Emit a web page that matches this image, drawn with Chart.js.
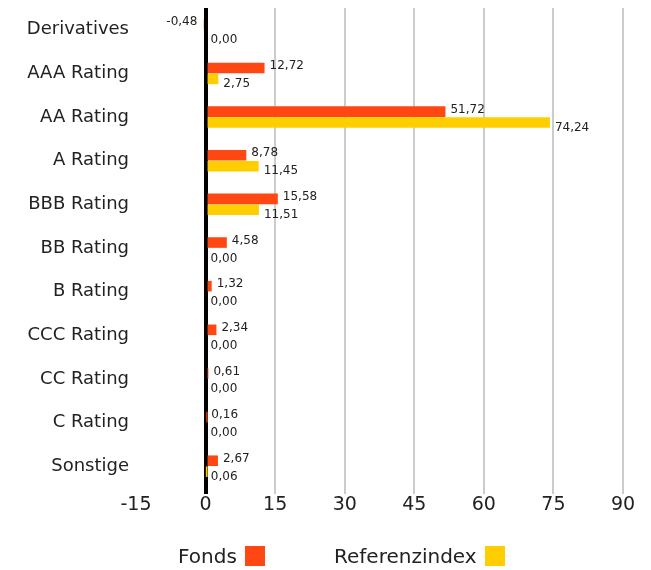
<!DOCTYPE html>
<html>
<head>
<meta charset="utf-8">
<script src="https://cdn.jsdelivr.net/npm/chart.js@4"></script>
<style>
  body { margin: 0; background: #fff; }
  #wrap { position: relative; width: 651px; height: 570px; }
  #legend {
    position: absolute; left: 0; top: 544px; width: 651px;
    font-family: "DejaVu Sans", sans-serif; font-size: 20px; color: #222;
  }
  .item { position: absolute; top: 0; display: flex; align-items: center; }
  .box { width: 20px; height: 20px; margin-left: 8px; }
</style>
</head>
<body>
<div id="wrap">
  <canvas id="myChart" width="651" height="570"></canvas>
  <div id="legend"></div>
</div>
<script>
var categories = [
  "Derivatives", "AAA Rating", "AA Rating", "A Rating", "BBB Rating",
  "BB Rating", "B Rating", "CCC Rating", "CC Rating", "C Rating", "Sonstige"
];
var fondsValues = [-0.48, 12.72, 51.72, 8.78, 15.58, 4.58, 1.32, 2.34, 0.61, 0.16, 2.67];
var referenzValues = [0.00, 2.75, 74.24, 11.45, 11.51, 0.00, 0.00, 0.00, 0.00, 0.00, 0.06];
var seriesNames = ["Fonds", "Referenzindex"];
var seriesColors = ["#ff4713", "#ffce00"];

var fontFamily = "'DejaVu Sans', sans-serif";

// value labels next to each bar, german decimal comma
var barLabels = {
  id: "barLabels",
  afterDatasetsDraw: function (chart) {
    var ctx = chart.ctx;
    ctx.save();
    ctx.font = "12px " + fontFamily;
    ctx.fillStyle = "#222";
    ctx.textBaseline = "middle";
    chart.data.datasets.forEach(function (ds, i) {
      var meta = chart.getDatasetMeta(i);
      meta.data.forEach(function (bar, j) {
        var v = ds.data[j];
        var txt = v.toFixed(2).replace(".", ",");
        var dy = i === 0 ? -2 : 5;
        if (v < 0) {
          ctx.textAlign = "right";
          ctx.fillText(txt, bar.x - 6, bar.y + dy);
        } else {
          ctx.textAlign = "left";
          ctx.fillText(txt, bar.x + 5, bar.y + dy);
        }
      });
    });
    ctx.restore();
  }
};

var ctx = document.getElementById("myChart").getContext("2d");

var myChart = new Chart(ctx, {
  type: "bar",
  data: {
    labels: categories,
    datasets: [
      {
        label: seriesNames[0],
        data: fondsValues,
        backgroundColor: seriesColors[0],
        categoryPercentage: 0.5,
        barPercentage: 0.97
      },
      {
        label: seriesNames[1],
        data: referenzValues,
        backgroundColor: seriesColors[1],
        categoryPercentage: 0.5,
        barPercentage: 0.97
      }
    ]
  },
  options: {
    indexAxis: "y",
    responsive: false,
    animation: false,
    layout: { padding: { top: 8, right: 28, bottom: 50, left: 0 } },
    plugins: {
      legend: { display: false },
      tooltip: { enabled: false }
    },
    scales: {
      x: {
        min: -15,
        max: 90,
        ticks: {
          stepSize: 15,
          color: "#222",
          font: { family: fontFamily, size: 19 },
          padding: 0
        },
        border: { display: false },
        grid: {
          color: function (c) {
            if (c.tick.value === 0) return "#000";
            if (c.tick.value === -15) return "rgba(0,0,0,0)";
            return "#cccccc";
          },
          lineWidth: function (c) {
            return c.tick.value === 0 ? 4 : 2;
          },
          tickLength: 6
        },
        afterFit: function (scale) {
          scale.height = 32;
          scale.paddingLeft = 0;
          scale.paddingRight = 0;
        }
      },
      y: {
        ticks: {
          color: "#222",
          font: { family: fontFamily, size: 18 },
          padding: 7
        },
        border: { display: false },
        grid: { display: false, drawTicks: false },
        afterFit: function (scale) {
          scale.width = 136;
          scale.paddingTop = 0;
          scale.paddingBottom = 0;
        }
      }
    }
  },
  plugins: [barLabels]
});

// legend with the colour box after the text
var legendPos = [178, 334];
var legend = document.getElementById("legend");
seriesNames.forEach(function (name, i) {
  var item = document.createElement("div");
  item.className = "item";
  item.style.left = legendPos[i] + "px";
  item.innerHTML = "<span>" + name + "</span><span class='box' style='background:" + seriesColors[i] + "'></span>";
  legend.appendChild(item);
});
</script>
</body>
</html>
